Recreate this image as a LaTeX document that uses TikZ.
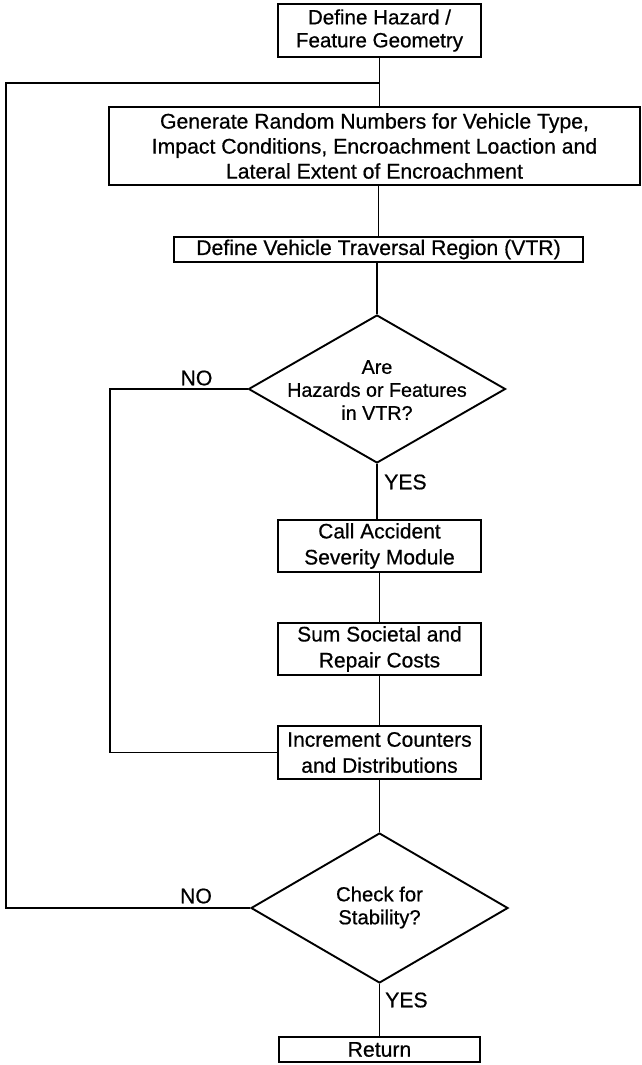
\documentclass[tikz,border=0pt]{standalone}
\usepackage{fontspec}
\setmainfont{Liberation Sans}[AutoFakeBold=0.6]
\usetikzlibrary{shapes.geometric}
\begin{document}
\begin{tikzpicture}[x=1pt,y=-1pt,
  every node/.style={font=\fontsize{21.2}{25}\selectfont\bfseries},
  procbox/.style={draw, line width=1.9pt, inner sep=0pt, align=center},
  decision/.style={draw, shape=diamond, line width=1.9pt, inner sep=0pt},
  flow/.style={line width=1.9pt},
  branch/.style={inner sep=0pt}
]
\useasboundingbox (0,0) rectangle (642,1065);

% process boxes
\node[procbox, minimum width=203pt, minimum height=53pt,
      font=\fontsize{20.6}{23}\selectfont\bfseries] (geom) at (379.5,30.5)
  {Define Hazard /\\Feature Geometry};
\node[procbox, minimum width=531pt, minimum height=78pt] (rand) at (374.5,146)
  {Generate Random Numbers for Vehicle Type,\\Impact Conditions, Encroachment Loaction and\\Lateral Extent of Encroachment};
\node[procbox, minimum width=409pt, minimum height=25pt] (vtr) at (378.5,249.5)
  {Define Vehicle Traversal Region (VTR)};

% first decision
\node[decision, minimum width=257pt, minimum height=148pt] (haz) at (377,389) {};
\node[align=center, font=\fontsize{19.7}{23}\selectfont\bfseries, inner sep=0pt] (haztext) at (377,390)
  {Are\\Hazards or Features\\in VTR?};

\node[procbox, minimum width=203pt, minimum height=52pt,
      font=\fontsize{21}{26}\selectfont\bfseries] (sev) at (379.5,546)
  {Call Accident\\Severity Module};
\node[procbox, minimum width=203pt, minimum height=52pt,
      font=\fontsize{21}{26}\selectfont\bfseries] (cost) at (379.5,649)
  {Sum Societal and\\Repair Costs};
\node[procbox, minimum width=203pt, minimum height=53pt,
      font=\fontsize{21}{26}\selectfont\bfseries] (count) at (379.5,752.5)
  {Increment Counters\\and Distributions};

% second decision
\node[decision, minimum width=257pt, minimum height=150pt] (stab) at (379.5,908) {};
\node[align=center, font=\fontsize{20.3}{23}\selectfont\bfseries, inner sep=0pt] (stabtext) at (379.5,907.5)
  {Check for\\Stability?};

\node[procbox, minimum width=201pt, minimum height=25pt] (ret) at (379.5,1049.5)
  {Return};

% main flow
\coordinate (join) at (379,83);
\draw[flow] (geom.south) -- (geom.south |- rand.north);
\draw[flow] (rand.south -| vtr.north) -- (vtr.north);
\draw[flow] (vtr.south -| haz.north) -- (haz.north);
\draw[flow] (haz.south) -- (haz.south |- sev.north);
\draw[flow] (sev.south) -- (cost.north);
\draw[flow] (cost.south) -- (count.north);
\draw[flow] (count.south) -- (stab.north);
\draw[flow] (stab.south) -- (ret.north);

% loop back from the first decision
\coordinate (loopA) at (110,389);
\draw[flow] (haz.west) -- (loopA) -- (loopA |- count.west) -- (count.west);

% loop back from the stability check
\coordinate (loopB) at (6,908);
\draw[flow] (stab.west) -- (loopB) -- (loopB |- join) -- (join);

% branch labels
\node[branch] (no1) at (196.5,378) {NO};
\node[branch, anchor=west] (yes1) at (384,482) {YES};
\node[branch] (no2) at (196,896) {NO};
\node[branch, anchor=west] (yes2) at (385,1000) {YES};
\end{tikzpicture}
\end{document}
